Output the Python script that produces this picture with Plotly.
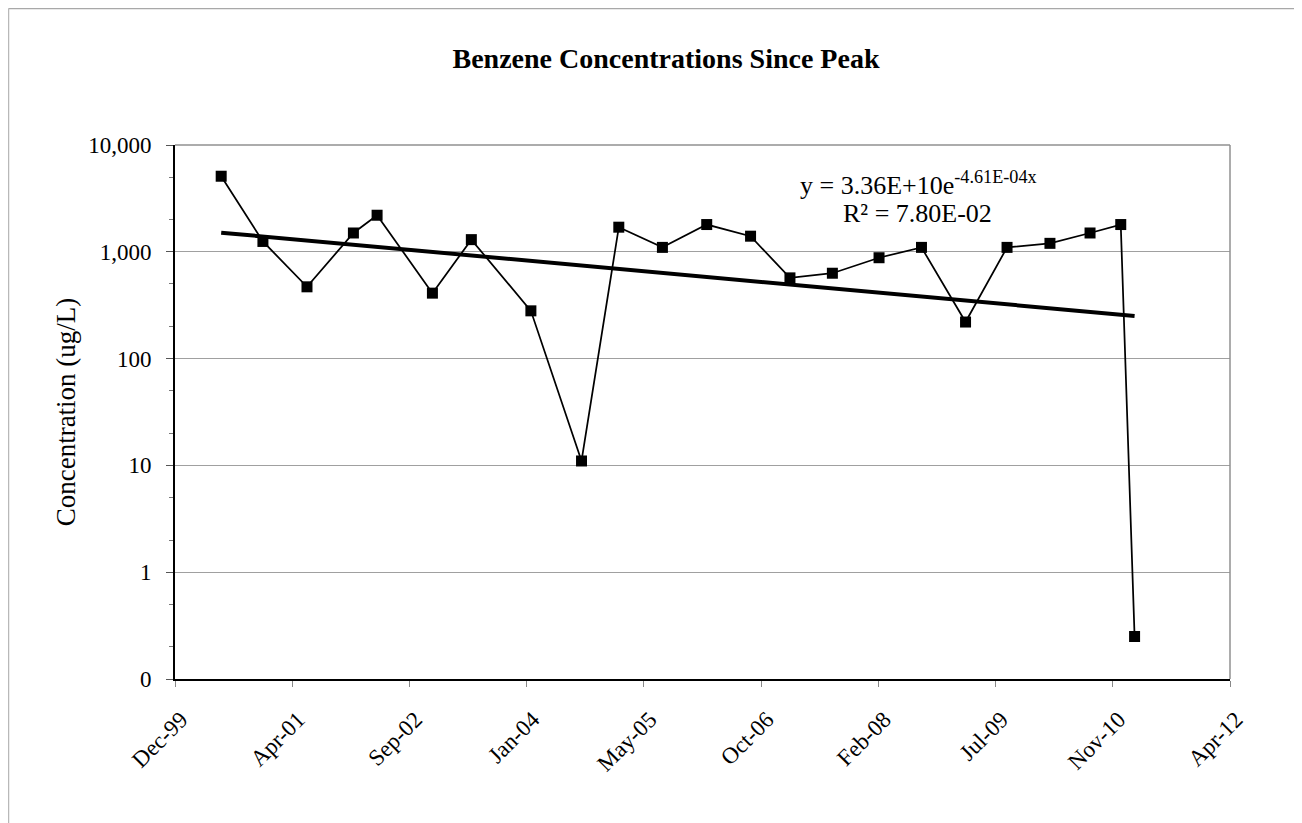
import math
import datetime as dt
import plotly.graph_objects as go

# Sampling dates and benzene concentrations (ug/L)
sample_dates = [
    "2000-06-20", "2000-12-15", "2001-06-21", "2002-01-05", "2002-04-16",
    "2002-12-08", "2003-05-23", "2004-02-01", "2004-09-04", "2005-02-10",
    "2005-08-15", "2006-02-20", "2006-08-26", "2007-02-10", "2007-08-10",
    "2008-02-25", "2008-08-24", "2009-02-28", "2009-08-24", "2010-02-23",
    "2010-08-13", "2010-12-22", "2011-02-19",
]
benzene = [
    5100, 1250, 470, 1500, 2200,
    410, 1300, 280, 11, 1700,
    1100, 1800, 1400, 570, 630,
    880, 1100, 220, 1100, 1200,
    1500, 1800, 0.25,
]

# Excel exponential trendline: y = a * exp(b * serial_date)
trend_a = 3.36e10
trend_b = -4.61e-4

# x-axis ticks (Excel date axis, 500-day major unit)
tick_dates = ["1999-12-06", "2001-04-19", "2002-09-01", "2004-01-14", "2005-05-28",
              "2006-10-10", "2008-02-22", "2009-07-06", "2010-11-18", "2012-04-01"]
tick_labels = ["Dec-99", "Apr-01", "Sep-02", "Jan-04", "May-05",
               "Oct-06", "Feb-08", "Jul-09", "Nov-10", "Apr-12"]

# y-axis ticks (log scale)
y_tickvals = [0.1, 1, 10, 100, 1000, 10000]
y_ticktext = ["0", "1", "10", "100", "1,000", "10,000"]


def excel_serial(s):
    d = dt.date.fromisoformat(s)
    return (d - dt.date(1899, 12, 30)).days


trend_x = [sample_dates[0], sample_dates[-1]]
trend_y = [trend_a * math.exp(trend_b * excel_serial(d)) for d in trend_x]

FONT = "Liberation Serif, Times New Roman, serif"
# page has an 8px body margin, so the figure is a bit smaller than the window
W, H = 1294, 815
ML, MR, MT, MB = 167, 72, 137, 144
pw = W - ML - MR
ph = H - MT - MB


def px_x(page_x):
    return (page_x - 8 - ML) / pw


def px_y(page_y):
    return (H - MB - (page_y - 8)) / ph


fig = go.Figure()

fig.add_trace(go.Scatter(
    x=trend_x, y=trend_y, mode="lines",
    line=dict(color="black", width=4),
    showlegend=False, hoverinfo="skip",
))

fig.add_trace(go.Scatter(
    x=sample_dates, y=benzene, mode="lines+markers",
    line=dict(color="black", width=1.75),
    marker=dict(symbol="square", size=11, color="black"),
    showlegend=False,
))

# chart frame (partly cut off in the original)
fx0 = (0.5 - ML) / pw
fy1 = (H - MB - 0.5) / ph
fig.add_shape(type="line", xref="paper", yref="paper",
              x0=fx0, x1=(W - ML) / pw, y0=fy1, y1=fy1,
              line=dict(color="#a8a8a8", width=1.5))
fig.add_shape(type="line", xref="paper", yref="paper",
              x0=fx0, x1=fx0, y0=-MB / ph, y1=fy1,
              line=dict(color="#b8b8b8", width=1.5))

# gray border on top and right of plot area
fig.add_shape(type="line", xref="paper", yref="paper", x0=0, x1=1, y0=1, y1=1,
              line=dict(color="#909090", width=1.5))
fig.add_shape(type="line", xref="paper", yref="paper", x0=1, x1=1, y0=0, y1=1,
              line=dict(color="#909090", width=1.5))

# trendline label
fig.add_annotation(
    x=px_x(918), y=px_y(184), xref="paper", yref="paper",
    xanchor="center", yanchor="middle",
    text="y = 3.36E+10e<sup>-4.61E-04x</sup>",
    showarrow=False, font=dict(family=FONT, size=26, color="black"),
)
fig.add_annotation(
    x=px_x(917), y=px_y(213), xref="paper", yref="paper",
    xanchor="center", yanchor="middle",
    text="R² = 7.80E-02",
    showarrow=False, font=dict(family=FONT, size=26, color="black"),
)

fig.update_layout(
    width=W, height=H,
    margin=dict(l=ML, r=MR, t=MT, b=MB),
    paper_bgcolor="white", plot_bgcolor="white",
    title=dict(text="<b>Benzene Concentrations Since Peak</b>",
               x=(666 - 8) / W, xanchor="center", y=1 - 50 / H, yanchor="middle",
               font=dict(family=FONT, size=28, color="black")),
    font=dict(family=FONT, size=23, color="black"),
)

fig.update_xaxes(
    type="date",
    range=[tick_dates[0], tick_dates[-1]],
    tickvals=tick_dates, ticktext=tick_labels, tickangle=-45,
    ticks="outside", ticklen=6, tickcolor="#888888",
    ticklabelstandoff=10, ticklabelshift=6,
    showgrid=False, zeroline=False,
    showline=True, linecolor="black", linewidth=2,
    tickfont=dict(family=FONT, size=23),
)

fig.update_yaxes(
    type="log", range=[-1, 4],
    tickvals=y_tickvals, ticktext=y_ticktext,
    ticks="outside", ticklen=7, tickcolor="#555555",
    ticklabelstandoff=10,
    minor=dict(ticks="outside", ticklen=4, tickcolor="#777777", showgrid=False),
    showgrid=True, gridcolor="#a0a0a0", gridwidth=1,
    zeroline=False,
    showline=True, linecolor="black", linewidth=2,
    title=dict(text="Concentration (ug/L)", font=dict(family=FONT, size=27), standoff=5),
    tickfont=dict(family=FONT, size=23),
)

fig.write_html("out.html")
